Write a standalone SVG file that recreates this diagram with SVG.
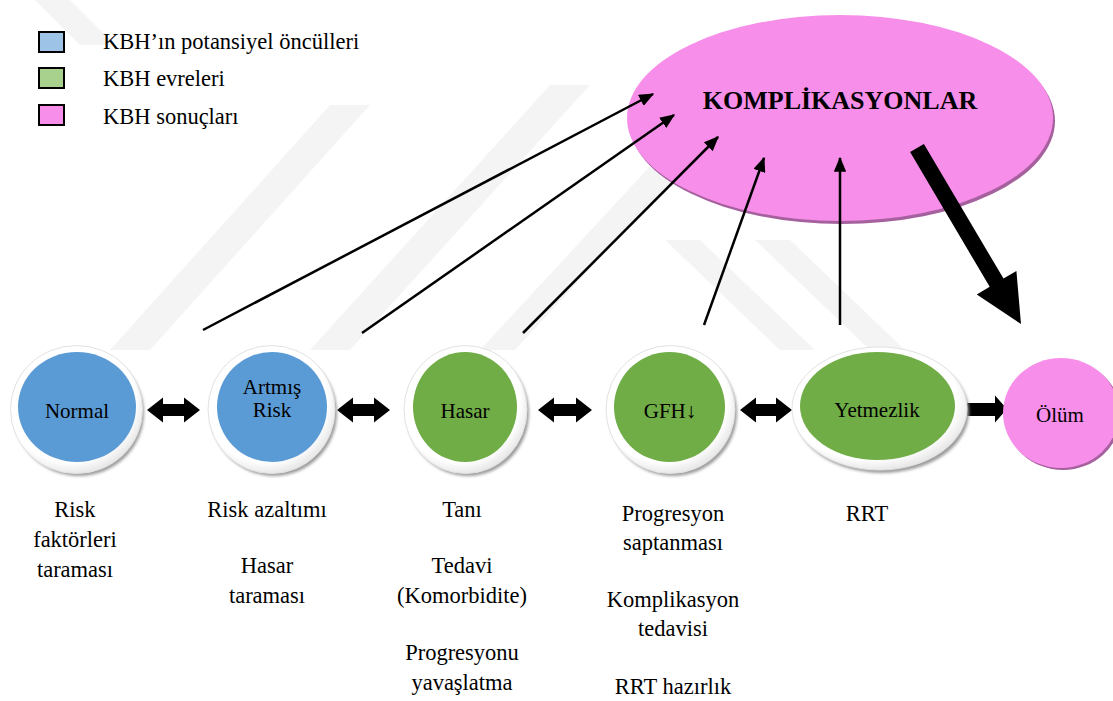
<svg xmlns="http://www.w3.org/2000/svg" width="1113" height="701" viewBox="0 0 1113 701" font-family="'Liberation Serif', 'DejaVu Serif', serif">
<defs>
<style>
text{font-family:"Liberation Serif","DejaVu Serif",serif;fill:#000}
.t{font-size:22.5px;text-anchor:middle}
.nt{font-size:21px;text-anchor:middle}
.lg{font-size:22.5px}
.wm{fill:#f4f4f4}
.conn{stroke:#000;stroke-width:2.5;fill:none;marker-end:url(#ah)}
.blk{fill:#000}
.ring{fill:url(#ringG);stroke:#e2e2e2;stroke-width:1}
.shadow{fill:#9c9c9c;filter:url(#blur)}
.blue{fill:#5b9bd5}
.green{fill:#70ad47}
.pink{fill:#f78ee9}
.pshadow{fill:#a5609e}
.sq{stroke:#000;stroke-width:2}
</style>
<radialGradient id="ringG" cx="0.45" cy="0.42" r="0.6">
<stop offset="0.82" stop-color="#ffffff"/><stop offset="1" stop-color="#e4e4e4"/>
</radialGradient>
<filter id="blur" x="-20%" y="-20%" width="140%" height="140%"><feGaussianBlur stdDeviation="1.5"/></filter>
<marker id="ah" viewBox="0 0 12 10" refX="11" refY="5" markerWidth="6" markerHeight="5" orient="auto" markerUnits="strokeWidth">
<path d="M0,0 L12,5 L0,10 z" fill="#000"/>
</marker>
</defs>
<rect width="1113" height="701" fill="#fff"/>
<g id="watermark">
<polygon class="wm" points="35,0 70,0 115,45 80,45"/>
<polygon class="wm" points="110,350 150,350 370,105 330,105"/>
<polygon class="wm" points="310,350 350,350 590,85 550,85"/>
<polygon class="wm" points="480,350 515,350 700,150 665,150"/>
<polygon class="wm" points="665,240 700,240 815,350 780,350"/>
<polygon class="wm" points="755,240 790,240 905,350 870,350"/>
</g>
<g id="legend">
<rect class="sq" x="39" y="32" width="25" height="20" fill="#9dc3e6"/>
<text class="lg" x="103" y="49">KBH’ın potansiyel öncülleri</text>
<rect class="sq" x="39" y="68" width="25" height="20" fill="#a9d18e"/>
<text class="lg" x="103" y="86">KBH evreleri</text>
<rect class="sq" x="39" y="105" width="25" height="20" fill="#f78ee9"/>
<text class="lg" x="103" y="124">KBH sonuçları</text>
</g>
<g id="komplikasyonlar">
<ellipse class="pshadow" cx="842" cy="121" rx="213" ry="103"/>
<ellipse class="pink" cx="840" cy="118" rx="213" ry="103"/>
<text x="840" y="109" font-size="26" font-weight="bold" text-anchor="middle">KOMPLİKASYONLAR</text>
</g>
<g id="connectors">
<line class="conn" x1="203" y1="330" x2="653" y2="94"/>
<line class="conn" x1="362" y1="333" x2="674" y2="115"/>
<line class="conn" x1="523" y1="333" x2="718" y2="137"/>
<line class="conn" x1="704" y1="325" x2="764" y2="158"/>
<line class="conn" x1="840" y1="325" x2="840" y2="158"/>
<polygon class="blk" points="910.1,152.1 923.9,143.9 1003.5,278.6 1016.4,271 1021,324 976.8,294.4 989.7,286.8"/>
<polygon class="blk" points="147,410 163,397.5 163,404 184,404 184,397.5 200,410 184,422.5 184,416 163,416 163,422.5"/>
<polygon class="blk" points="337,410 353,397.5 353,404 374,404 374,397.5 390,410 374,422.5 374,416 353,416 353,422.5"/>
<polygon class="blk" points="538,410 554,397.5 554,404 576,404 576,397.5 592,410 576,422.5 576,416 554,416 554,422.5"/>
<polygon class="blk" points="740,410 756,397.5 756,404 776,404 776,397.5 792,410 776,422.5 776,416 756,416 756,422.5"/>
<polygon class="blk" points="965,403 995,403 995,395.5 1007,409 995,422.5 995,416 965,416"/>
</g>
<g id="n-normal">
<ellipse class="shadow" cx="79" cy="413" rx="65" ry="63"/>
<ellipse class="ring" cx="76.5" cy="409.5" rx="66" ry="64"/>
<ellipse class="blue" cx="77" cy="407" rx="59" ry="55"/>
<text class="nt" x="77" y="418">Normal</text>
</g>
<g id="n-artmis">
<ellipse class="shadow" cx="274" cy="413" rx="63" ry="63"/>
<ellipse class="ring" cx="271.5" cy="409.5" rx="63.5" ry="64"/>
<ellipse class="blue" cx="272" cy="407" rx="55" ry="55"/>
<text class="nt" x="272" y="394">Artmış</text>
<text class="nt" x="272" y="417">Risk</text>
</g>
<g id="n-hasar">
<ellipse class="shadow" cx="468" cy="413" rx="61" ry="63"/>
<ellipse class="ring" cx="465.5" cy="409.5" rx="61.5" ry="64"/>
<ellipse class="green" cx="465" cy="407" rx="52" ry="55"/>
<text class="nt" x="465" y="418">Hasar</text>
</g>
<g id="n-gfh">
<ellipse class="shadow" cx="673" cy="413" rx="64" ry="63"/>
<ellipse class="ring" cx="670.5" cy="409.5" rx="64.5" ry="64"/>
<ellipse class="green" cx="669.5" cy="407" rx="55.5" ry="55"/>
<text class="nt" x="670" y="418">GFH↓</text>
</g>
<g id="n-yetmezlik">
<ellipse class="shadow" cx="882" cy="412" rx="87" ry="61"/>
<ellipse class="ring" cx="879.5" cy="408.5" rx="87.5" ry="61.5"/>
<ellipse class="green" cx="877.5" cy="406" rx="77.5" ry="54"/>
<text class="nt" x="877" y="417">Yetmezlik</text>
</g>
<g id="n-olum">
<ellipse class="pshadow" cx="1063" cy="415" rx="58" ry="55"/>
<ellipse class="pink" cx="1061" cy="413" rx="58" ry="55"/>
<text class="nt" x="1060" y="422">Ölüm</text>
</g>
<g id="notes">
<text class="t" x="75" y="517">Risk</text>
<text class="t" x="75" y="547">faktörleri</text>
<text class="t" x="75" y="577">taraması</text>
<text class="t" x="267" y="517">Risk azaltımı</text>
<text class="t" x="267" y="573">Hasar</text>
<text class="t" x="267" y="603">taraması</text>
<text class="t" x="462" y="517">Tanı</text>
<text class="t" x="462" y="573">Tedavi</text>
<text class="t" x="462" y="603">(Komorbidite)</text>
<text class="t" x="462" y="660">Progresyonu</text>
<text class="t" x="462" y="690">yavaşlatma</text>
<text class="t" x="673" y="521">Progresyon</text>
<text class="t" x="673" y="550">saptanması</text>
<text class="t" x="673" y="607">Komplikasyon</text>
<text class="t" x="673" y="636">tedavisi</text>
<text class="t" x="673" y="694">RRT hazırlık</text>
<text class="t" x="867" y="521">RRT</text>
</g>
</svg>
